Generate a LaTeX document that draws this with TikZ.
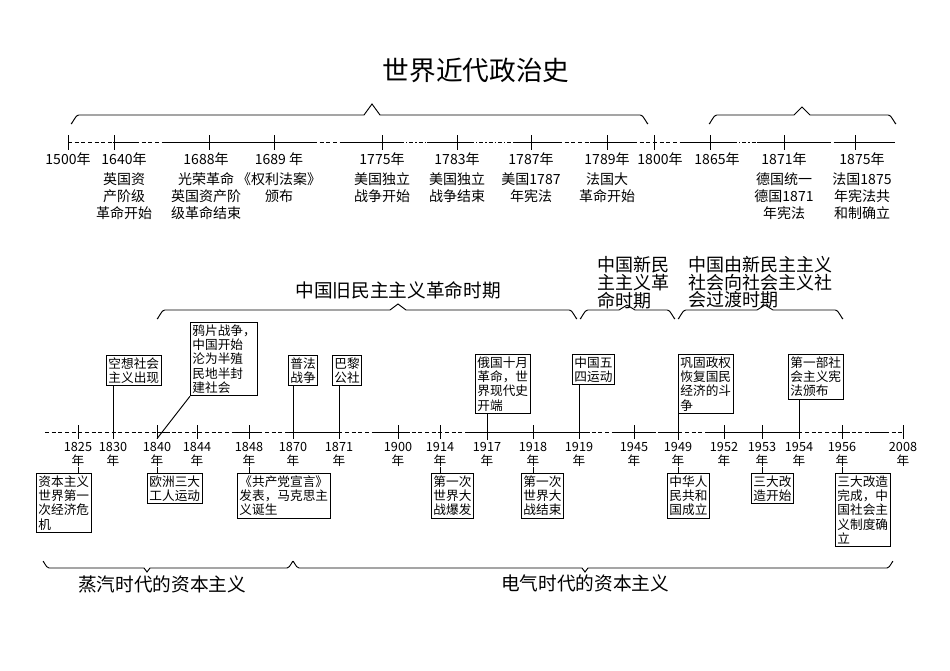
\documentclass[tikz,border=0pt]{standalone}
\usepackage{fontspec}
\setmainfont{Noto Sans CJK SC}
\begin{document}
\begin{tikzpicture}[x=0.75pt,y=-0.75pt,line width=0.7pt,
  yr/.style={font=\fontsize{10.5}{13}\selectfont,inner sep=0pt,anchor=north,align=center},
  my/.style={font=\fontsize{9.5}{10.5}\selectfont,inner sep=0pt,anchor=north,align=center},
  ev/.style={draw,font=\fontsize{9.5}{10.8}\selectfont,inner sep=1.5pt,align=left,anchor=north west},
  per/.style={font=\fontsize{14}{15}\selectfont,inner sep=0pt},
  dsh/.style={dash pattern=on 3pt off 2pt},
  dd/.style={dash pattern=on 3pt off 1.5pt on 1pt off 1.5pt}]
\useasboundingbox (0,0) rectangle (950,671);
\newcommand{\upbr}[5]{\draw (#1,#4+8) to[out=-90,in=180] (#1+8,#4) -- (#3-8,#4) -- (#3,#4-#5) -- (#3+8,#4) -- (#2-8,#4) to[out=0,in=-90] (#2,#4+8);}
\newcommand{\dnbr}[5]{\draw (#1,#4-6) to[out=90,in=180] (#1+6,#4) -- (#3-3,#4) -- (#3,#4+#5) -- (#3+3,#4) -- (#2-6,#4) to[out=0,in=90] (#2,#4-6);}
\node[font=\fontsize{20}{22}\selectfont] (title) at (476,70) {世界近代政治史};
% top timeline
\draw[dsh] (68,142) -- (113,142);
\draw (113,142) -- (135,142);
\draw[dsh] (135,142) -- (163,142);
\draw (163,142) -- (313,142);
\draw[dsh] (313,142) -- (340,142);
\draw (340,142) -- (400,142);
\draw[dd] (400,142) -- (427,142);
\draw (427,142) -- (470,142);
\draw[dd] (470,142) -- (513,142);
\draw (513,142) -- (558,142);
\draw[dsh] (558,142) -- (590,142);
\draw (590,142) -- (633,142);
\draw[dsh] (633,142) -- (683,142);
\draw (683,142) -- (733,142);
\draw[dd] (733,142) -- (757,142);
\draw (757,142) -- (827,142);
\draw[dsh] (827,142) -- (835,142);
\draw (835,142) -- (895,142);
\foreach \x in {68,114,209,274,382,457,531,607,654,710,784,855} \draw (\x,135) -- (\x,150);
\upbr{71}{648}{372}{115}{11}
\upbr{709}{896}{802}{115}{8}
\node[yr] (y1500) at (68,152) {1500年};
\node[yr] (y1640) at (124,152) {1640年\\[2pt]英国资\\产阶级\\革命开始};
\node[yr] (y1688) at (206,152) {1688年\\[2pt]光荣革命\\英国资产阶\\级革命结束};
\node[yr] (y1689) at (279,152) {1689 年\\[2pt]《权利法案》\\颁布};
\node[yr] (y1775) at (382,152) {1775年\\[2pt]美国独立\\战争开始};
\node[yr] (y1783) at (457,152) {1783年\\[2pt]美国独立\\战争结束};
\node[yr] (y1787) at (531,152) {1787年\\[2pt]美国1787\\年宪法};
\node[yr] (y1789) at (607,152) {1789年\\[2pt]法国大\\革命开始};
\node[yr] (y1800) at (660,152) {1800年};
\node[yr] (y1865) at (717,152) {1865年};
\node[yr] (y1871) at (784,152) {1871年\\[2pt]德国统一\\德国1871\\年宪法};
\node[yr] (y1875) at (862,152) {1875年\\[2pt]法国1875\\年宪法共\\和制确立};
% period braces
\upbr{157}{577}{398}{310}{6}
\upbr{580}{675}{627}{310}{5}
\upbr{678}{843}{765}{310}{5}
\node[per] (p1) at (398,290) {中国旧民主主义革命时期};
\node[per,align=left,anchor=north west,font=\fontsize{13.5}{12.5}\selectfont] (p2) at (597,256) {中国新民\\主主义革\\命时期};
\node[per,align=left,anchor=north west,font=\fontsize{13.5}{12.5}\selectfont] (p3) at (688,256) {中国由新民主主义\\社会向社会主义社\\会过渡时期};
% middle timeline
\draw[dsh] (45,432) -- (903,432);
\foreach \a/\b in {157/170,233/262,285/339,375/410,467/590,613/652,662/678,705/738,738/799,840/850,870/888} \draw (\a,432) -- (\b,432);
\foreach \n/\x in {1825/78,1830/113,1840/157,1844/197,1848/249,1870/293,1871/339,1900/398,1914/440,1917/487,1918/533,1919/579,1945/634,1949/678,1952/724,1953/762,1954/799,1956/842,2008/903}{
  \coordinate (t\n) at (\x,432);
  \draw (\x,425) -- (\x,439);
  \node[my] (m\n) at (\x,442) {\n\\年};
}
% upper boxes
\node[ev] (b1) at (106,355) {空想社会\\主义出现};
\draw (b1.south -| t1830) -- (t1830);
\node[ev] (b2) at (190,322) {鸦片战争，\\中国开始\\沦为半殖\\民地半封\\建社会};
\draw (b2.south west) -- ([yshift=-5]t1840);
\node[ev] (b3) at (288,355) {普法\\战争};
\draw (b3.south -| t1870) -- (t1870);
\node[ev] (b4) at (332,355) {巴黎\\公社};
\draw (b4.south -| t1871) -- (t1871);
\node[ev] (b5) at (475,354) {俄国十月\\革命，世\\界现代史\\开端};
\draw (b5.south -| t1917) -- ([yshift=-6]t1917);
\node[ev] (b6) at (572,354) {中国五\\四运动};
\draw (b6.south -| t1919) -- (t1919);
\node[ev] (b7) at (678,354) {巩固政权\\恢复国民\\经济的斗\\争};
\draw (b7.south west) -- ([yshift=-6]t1949);
\node[ev] (b8) at (788,354) {第一部社\\会主义宪\\法颁布};
\draw (b8.south -| t1954) -- (t1954);
% lower boxes
\node[ev] (c1) at (36,473) {资本主义\\世界第一\\次经济危\\机};
\draw (c1.north -| t1825) -- ++(0,-6);
\node[ev] (c2) at (147,473) {欧洲三大\\工人运动};
\draw (c2.north -| t1840) -- ++(0,-6);
\node[ev] (c3) at (237,473) {《共产党宣言》\\发表，马克思主\\义诞生};
\draw (c3.north -| t1848) -- ++(0,-6);
\node[ev] (c4) at (431,473) {第一次\\世界大\\战爆发};
\draw (c4.north -| t1914) -- ++(0,-6);
\node[ev] (c5) at (521,473) {第一次\\世界大\\战结束};
\draw (c5.north -| t1918) -- ++(0,-6);
\node[ev] (c6) at (667,473) {中华人\\民共和\\国成立};
\draw (c6.north -| t1949) -- ++(0,-6);
\node[ev] (c7) at (751,473) {三大改\\造开始};
\draw (c7.north -| t1953) -- ++(0,-6);
\node[ev] (c8) at (835,473) {三大改造\\完成，中\\国社会主\\义制度确\\立};
\draw (c8.north -| t1956) -- ++(0,-6);
% bottom braces
\dnbr{43}{293}{147}{568}{4}
\dnbr{293}{893}{585}{568}{4}
\node[per] (s1) at (162,584) {蒸汽时代的资本主义};
\node[per] (s2) at (585,583) {电气时代的资本主义};
\end{tikzpicture}
\end{document}
